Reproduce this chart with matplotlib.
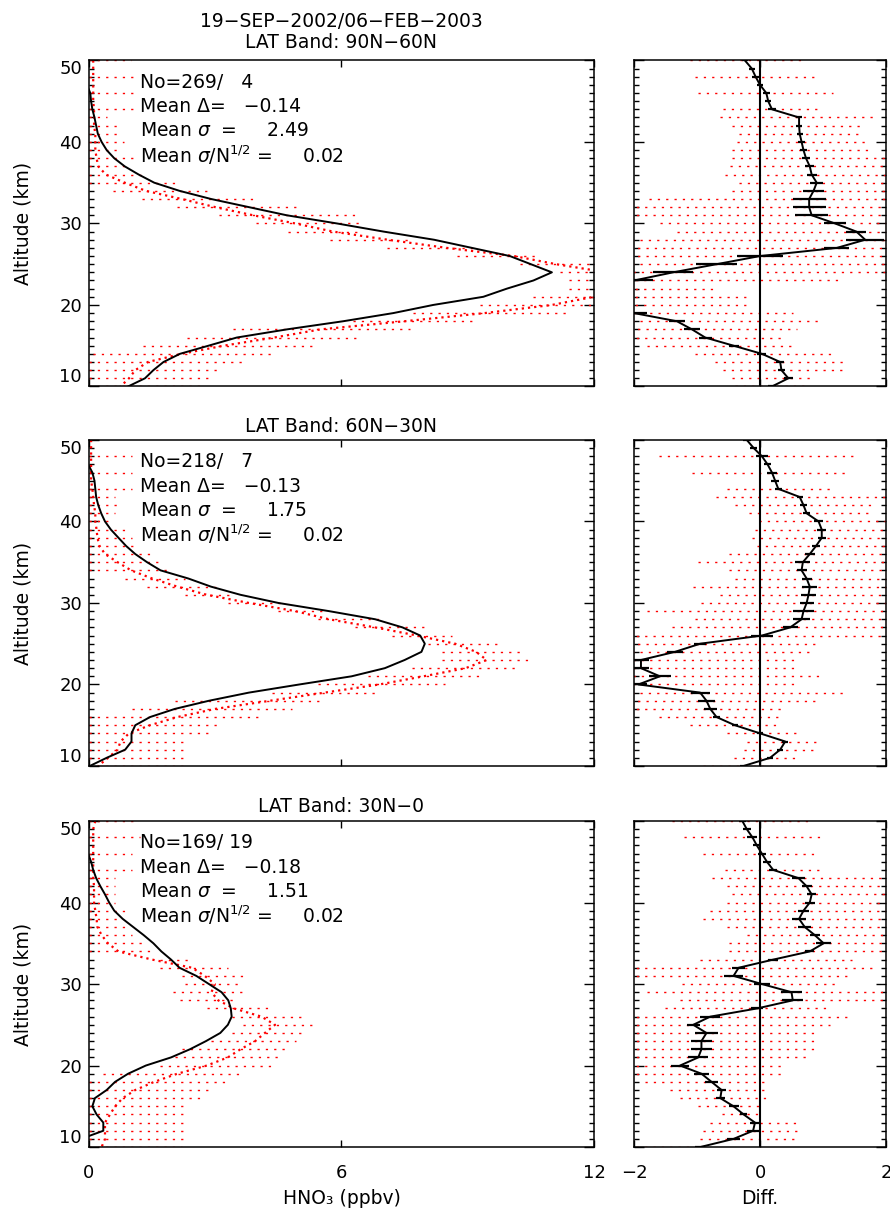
import numpy as np
import matplotlib
matplotlib.use("Agg")
import matplotlib.pyplot as plt
from matplotlib.ticker import MultipleLocator

plt.rcParams['font.family'] = ['DejaVu Sans']
plt.rcParams['font.size'] = 13

# altitude levels, top to bottom (km)
alt = np.arange(50, 9, -1)
nan = np.nan

# ---- 90N-60N ----
a1_mean = [-0.1, -0.1, -0.05, -0.05, 0.03, 0.05, 0.08, 0.13, 0.17, 0.21, 0.3, 0.42, 0.6, 0.85, 1.18,
           1.55, 2.15, 2.9, 3.8, 4.7, 5.89, 7.0, 8.2, 9.1, 10.0, 10.5, 11.0, 10.56, 9.93, 9.37,
           8.18, 7.23, 6.04, 4.7, 3.51, 2.84, 2.16, 1.77, 1.53, 1.33, 0.93]
b1_mean = [0.1, 0.1, 0.1, 0.1, 0.1, 0.1, 0.12, 0.12, 0.12, 0.15, 0.15, 0.15, 0.18, 0.22, 0.4,
           0.85, 1.35, 2.2, 3.0, 3.9, 4.9, 5.8, 7.1, 8.5, 10.1, 11.1, 12.3, 12.8, 12.8, 12.0,
           11.0, 9.4, 7.5, 5.5, 4.4, 3.2, 2.2, 1.4, 1.1, 0.95, 0.75]
b1_lo = [0, nan, 0, nan, 0, nan, 0, 0, 0, 0, 0, 0, 0, 0, 0,
         0, 0.58, 1.25, 2.08, 3.1, 3.98, 4.74, 5.73, 7.07, 8.74, 10.24, 11.19, 11.4, 11.4, 10.56,
         9.29, 7.7, 6.28, 3.43, 2.32, 1.29, 0.1, 0, 0, 0, 0]
b1_hi = [1.0, nan, 1.05, nan, 1.05, nan, 1.05, 0.42, 0.66, 0.66, 0.82, 0.7, 1.05, 0.95, 1.3,
         2.16, 2.95, 3.98, 5.0, 6.36, 6.5, 6.52, 7.7, 9.2, 10.7, 12.5, 13.4, 14.0, 14.0, 13.5,
         12.7, 11.35, 9.2, 7.63, 6.36, 5.33, 4.38, 3.67, 3.1, 2.95, 2.72]
d1 = [-0.24, -0.13, -0.07, 0.0, 0.1, 0.13, 0.19, 0.62, 0.62, 0.63, 0.66, 0.69, 0.73, 0.79, 0.82,
      0.9, 0.85, 0.78, 0.78, 0.82, 1.19, 1.53, 1.67, 1.22, 0.0, -0.69, -1.38, -2.0, -2.6, -2.9,
      -2.5, -2.0, -1.32, -1.08, -0.87, -0.42, 0.03, 0.32, 0.34, 0.45, 0.19]
e1 = [0.05, 0.05, 0.06, 0.05, 0.06, 0.05, 0.06, 0.05, 0.05, 0.05, 0.06, 0.06, 0.06, 0.07, 0.08,
      0.1, 0.17, 0.26, 0.26, 0.26, 0.17, 0.16, 0.3, 0.2, 0.36, 0.33, 0.32, 0.3, 0.3, 0.3,
      0.3, 0.2, 0.13, 0.12, 0.1, 0.08, 0.07, 0.06, 0.06, 0.07, 0.06]
d1_lo = [-1.11, nan, -1.03, nan, -0.99, nan, -0.58, -0.63, -0.45, -0.34, -0.37, -0.45, -0.45, -0.47, -0.56,
         -0.34, -0.45, -1.77, -2.5, -2.5, -1.59, -1.32, -2.3, -2.6, -3.0, -3.5, -4.0, -4.5, -4.5, -4.5,
         -4.5, -4.0, -3.5, -3.0, -2.5, -1.8, -1.03, -0.71, -0.58, -0.45, -0.4]
d1_hi = [0.69, nan, 0.9, nan, 1.16, nan, 0.95, 1.8, 1.61, 1.61, 1.67, 1.75, 2.3, 2.3, 2.4,
         2.4, 2.5, 2.5, 2.5, 2.6, 2.6, 2.8, 3.0, 3.0, 2.5, 2.2, 2.0, 1.32, -0.69, -0.16,
         -0.16, 0.53, 0.95, 0.58, 0.37, 0.58, 1.16, 1.32, 1.32, 0.8, 0.8]
stats1 = ["No=269/   4", "Mean \u0394=   \u22120.14", "Mean $\\sigma$  =     2.49",
          "Mean $\\sigma$/N$^{1/2}$ =     0.02"]

# ---- 60N-30N ----
a2_mean = [-0.1, -0.1, -0.05, -0.02, 0.08, 0.13, 0.15, 0.17, 0.22, 0.29, 0.38, 0.52, 0.7, 0.88, 1.1,
           1.38, 1.7, 2.36, 2.9, 3.6, 4.5, 5.7, 6.8, 7.45, 7.87, 7.98, 7.9, 7.5, 7.03, 6.24,
           5.0, 3.8, 2.85, 2.04, 1.45, 1.1, 1.01, 1.01, 0.86, 0.42, 0.02]
b2_mean = [0.05, 0.05, 0.05, 0.05, 0.05, 0.05, 0.08, 0.1, 0.12, 0.15, 0.15, 0.18, 0.2, 0.25, 0.38,
           0.68, 1.0, 1.5, 2.1, 2.8, 3.8, 4.9, 5.7, 6.8, 7.8, 8.7, 9.2, 9.45, 8.95, 7.95,
           6.9, 5.6, 4.3, 3.0, 2.1, 1.45, 0.95, 0.75, 0.68, 0.45, 0.22]
b2_lo = [0, nan, 0, nan, 0, nan, 0, 0, 0, 0, 0, 0, 0, 0, 0,
         0, 0, 0.86, 1.37, 2.28, 3.31, 4.5, 5.45, 6.32, 7.19, 8.06, 8.38, 8.38, 7.67, 6.64,
         5.45, 4.34, 2.04, 1.01, 0, 0, 0, 0, 0, 0, 0]
b2_hi = [0.2, nan, 1.01, nan, 1.01, nan, 1.01, 0.62, 0.66, 0.62, 0.5, 0.86, 1.01, 1.17, 1.45,
         1.77, 1.9, 2.28, 3.07, 3.39, 4.66, 5.61, 6.88, 8.06, 8.62, 9.8, 10.36, 10.52, 10.2, 9.33,
         8.46, 6.8, 5.61, 4.82, 4.1, 3.07, 2.91, 2.32, 2.32, 2.32, 2.32]
d2 = [-0.21, -0.1, 0.03, 0.12, 0.19, 0.24, 0.29, 0.63, 0.69, 0.74, 0.93, 0.98, 0.98, 0.89, 0.79,
      0.68, 0.66, 0.74, 0.79, 0.77, 0.74, 0.69, 0.66, 0.48, 0.03, -0.95, -1.35, -1.89, -1.89, -1.59,
      -1.93, -0.95, -0.85, -0.79, -0.69, -0.4, 0.0, 0.4, 0.32, 0.16, -0.26]
e2 = [0.06, 0.06, 0.1, 0.06, 0.08, 0.06, 0.06, 0.05, 0.05, 0.06, 0.07, 0.07, 0.06, 0.06, 0.08,
      0.12, 0.08, 0.08, 0.12, 0.12, 0.11, 0.16, 0.13, 0.12, 0.18, 0.1, 0.13, 0.13, 0.13, 0.18,
      0.13, 0.15, 0.13, 0.1, 0.05, 0.05, 0.05, 0.05, 0.05, 0.05, 0.06]
d2_lo = [nan, nan, -1.61, nan, -1.08, nan, -0.53, -0.7, -0.4, -0.17, -0.01, -0.08, -0.13, -0.05, -0.5,
         -0.98, -0.5, -0.4, -1.06, -0.63, -0.93, -1.8, -1.03, -1.4, -2.5, -3.0, -3.5, -4.0, -4.0, -4.0,
         -4.0, -3.5, -3.0, -2.5, -1.61, -1.11, -0.53, -0.21, -0.26, -0.42, -0.9]
d2_hi = [nan, nan, 1.56, nan, 1.38, nan, 1.11, 2.3, 1.77, 1.75, 2.3, 2.4, 2.4, 2.4, 2.4,
         2.5, 2.5, 2.5, 2.6, 2.6, 2.6, 2.8, 2.6, 2.4, 2.2, 0.95, 0.82, 0.56, 0.56, 0.95,
         0.56, 1.32, 0.95, 0.42, 0.32, 0.32, 0.63, 0.95, 0.9, 0.63, 0.26]
stats2 = ["No=218/   7", "Mean \u0394=   \u22120.13", "Mean $\\sigma$  =     1.75",
          "Mean $\\sigma$/N$^{1/2}$ =     0.02"]

# ---- 30N-0 ----
a3_mean = [-0.2, -0.2, -0.15, -0.1, -0.02, 0.05, 0.1, 0.17, 0.27, 0.38, 0.48, 0.6, 0.8, 1.05, 1.3,
           1.53, 1.72, 1.95, 2.15, 2.55, 2.85, 3.15, 3.31, 3.37, 3.39, 3.3, 3.12, 2.78, 2.4, 1.95,
           1.35, 0.93, 0.62, 0.42, 0.14, 0.08, 0.18, 0.34, 0.34, -0.19, -0.3]
b3_mean = [0.15, 0.1, 0.1, 0.1, 0.1, 0.1, 0.1, 0.1, 0.12, 0.12, 0.12, 0.15, 0.18, 0.2, 0.3,
           0.45, 0.7, 1.5, 2.45, 2.75, 2.99, 2.91, 3.07, 3.45, 4.1, 4.42, 4.18, 3.95, 3.6, 3.3,
           2.8, 2.1, 1.55, 1.1, 0.8, 0.62, 0.5, 0.38, 0.38, 0.38, 0.3]
b3_lo = [0, nan, 0, nan, 0, nan, 0, 0, 0, 0, 0, 0, 0, 0, 0,
         0, 0, 1.69, 1.69, 2.2, 2.28, 2.0, 2.16, 2.8, 3.39, 3.67, 3.39, 2.91, 2.2, 2.04,
         1.69, 0.34, 0, 0, 0, 0, 0, 0, 0, 0, 0]
b3_hi = [1.2, nan, 1.21, nan, 1.01, nan, 1.01, 0.62, 0.62, 0.62, 0.62, 0.86, 0.66, 0.93, 1.01,
         1.25, 1.49, 2.48, 3.31, 3.79, 3.63, 3.63, 3.55, 4.34, 5.05, 5.29, 5.05, 4.93, 4.66, 4.5,
         4.34, 3.63, 3.31, 2.91, 2.72, 2.36, 2.36, 2.36, 2.36, 2.36, 2.2]
d3 = [-0.28, -0.21, -0.12, -0.05, 0.03, 0.11, 0.21, 0.61, 0.74, 0.82, 0.79, 0.69, 0.62, 0.71, 0.87,
      1.01, 0.79, 0.21, -0.34, -0.42, 0.03, 0.5, 0.52, -0.05, -0.79, -1.06, -0.85, -0.93, -0.93, -0.98,
      -1.27, -0.93, -0.77, -0.61, -0.63, -0.42, -0.26, -0.08, -0.11, -0.42, -0.95]
e3 = [0.06, 0.06, 0.08, 0.06, 0.06, 0.06, 0.06, 0.1, 0.08, 0.07, 0.08, 0.09, 0.11, 0.1, 0.08,
      0.12, 0.07, 0.08, 0.1, 0.15, 0.13, 0.17, 0.17, 0.1, 0.16, 0.1, 0.18, 0.16, 0.16, 0.16,
      0.15, 0.12, 0.1, 0.07, 0.07, 0.08, 0.06, 0.08, 0.1, 0.1, 0.08]
d3_lo = [-1.4, nan, -1.21, nan, -0.91, nan, -0.56, -0.77, -0.53, -0.45, -0.53, -0.79, -0.9, -0.53, -0.21,
         -0.5, -0.5, -0.95, -2.5, -2.5, -1.24, -1.8, -1.27, -1.51, -2.5, -2.5, -2.5, -2.5, -2.5, -2.5,
         -2.5, -2.5, -1.83, -1.43, -1.27, -0.98, -0.61, -0.79, -0.9, -0.95, -2.5]
d3_hi = [0.79, nan, 0.96, nan, 0.9, nan, 1.01, 2.3, 2.3, 2.3, 2.3, 2.4, 2.4, 2.4, 2.4,
         2.4, 2.4, 1.46, 1.83, 1.43, 1.22, 2.5, 2.5, 1.11, 1.46, 1.11, 0.93, 0.85, 0.9, 0.79,
         0.42, 0.42, 0.11, 0.11, 0.11, 0.0, 0.0, 0.63, 0.58, 0.58, -0.79]
stats3 = ["No=169/ 19", "Mean \u0394=   \u22120.18", "Mean $\\sigma$  =     1.51",
          "Mean $\\sigma$/N$^{1/2}$ =     0.02"]

titles = ["19\u2212SEP\u22122002/06\u2212FEB\u22122003\nLAT Band: 90N\u221260N",
          "LAT Band: 60N\u221230N",
          "LAT Band: 30N\u22120"]

hno3_ticks = [0, 6, 12]
diff_ticks = [-2, 0, 2]

seg_style = (0, (1.6, 4.4))
mean_style = (0, (1, 1.8))
txt_size = 13.5


def style_axes(ax):
    ax.tick_params(which='both', direction='in', top=True, right=True, width=1.0)
    ax.tick_params(which='major', axis='y', length=7, pad=5)
    ax.tick_params(which='minor', axis='y', length=3.5)
    ax.tick_params(which='major', axis='x', length=5, pad=12)
    ax.yaxis.set_minor_locator(MultipleLocator(1))
    ax.set_ylim(10, 50)
    ax.set_yticks([10, 20, 30, 40, 50])
    for s in ax.spines.values():
        s.set_linewidth(1.1)


def draw_profiles(ax, a_mean, b_mean, b_lo, b_hi, stats):
    lo = np.array(b_lo, dtype=float)
    hi = np.array(b_hi, dtype=float)
    ok = ~np.isnan(lo)
    ax.hlines(alt[ok], lo[ok], hi[ok], colors='red', linewidth=1.0, linestyles=[seg_style])
    ax.plot(b_mean, alt, color='red', linestyle=mean_style, linewidth=1.6)
    ax.plot(a_mean, alt, color='black', linewidth=1.4)
    ax.set_xlim(0, 12)
    ax.set_xticks(hno3_ticks)
    style_axes(ax)
    ax.set_ylabel("Altitude (km)", fontsize=txt_size)
    ax.yaxis.set_label_coords(-0.112, 0.5)
    # IDL keeps end labels inside the axis range
    labels = ax.yaxis.get_major_ticks()
    labels[0].label1.set_verticalalignment('bottom')
    labels[-1].label1.set_verticalalignment('top')
    for i, s in enumerate(stats):
        ax.text(0.101, 0.933 - i * 0.0743, s, transform=ax.transAxes,
                ha='left', va='center', fontsize=txt_size)


def draw_diff(ax, d, e, d_lo, d_hi):
    lo = np.array(d_lo, dtype=float)
    hi = np.array(d_hi, dtype=float)
    ok = ~np.isnan(lo)
    ax.hlines(alt[ok], lo[ok], hi[ok], colors='red', linewidth=1.0, linestyles=[seg_style])
    ax.axvline(0, color='black', linewidth=1.5)
    ax.plot(d, alt, color='black', linewidth=1.4)
    ax.errorbar(d, alt, xerr=e, fmt='none', ecolor='black', elinewidth=1.6, capsize=0)
    ax.set_xlim(-2, 2)
    ax.set_xticks(diff_ticks)
    style_axes(ax)
    ax.tick_params(labelleft=False)


fig = plt.figure(figsize=(8.9, 12.16), dpi=100)

panels = [
    (a1_mean, b1_mean, b1_lo, b1_hi, stats1, d1, e1, d1_lo, d1_hi),
    (a2_mean, b2_mean, b2_lo, b2_hi, stats2, d2, e2, d2_lo, d2_hi),
    (a3_mean, b3_mean, b3_lo, b3_hi, stats3, d3, e3, d3_lo, d3_hi),
]
bottoms = [0.6822, 0.3701, 0.0567]
title_y = [32, 426, 806]
h = 0.2681

for k, p in enumerate(panels):
    axl = fig.add_axes([0.1, bottoms[k], 0.5674, h])
    axr = fig.add_axes([0.7124, bottoms[k], 0.2831, h])
    draw_profiles(axl, p[0], p[1], p[2], p[3], p[4])
    draw_diff(axr, p[5], p[6], p[7], p[8])
    fig.text(341 / 890, 1 - title_y[k] / 1216, titles[k], ha='center', va='center',
             fontsize=txt_size, linespacing=1.1)
    if k < 2:
        axl.tick_params(labelbottom=False)
        axr.tick_params(labelbottom=False)
    else:
        axl.set_xlabel("HNO\u2083 (ppbv)", fontsize=txt_size)
        axl.xaxis.set_label_coords(0.5, -0.13)
        axr.set_xlabel("Diff.", fontsize=txt_size)
        axr.xaxis.set_label_coords(0.5, -0.13)

fig.savefig("out.png", dpi=100)
